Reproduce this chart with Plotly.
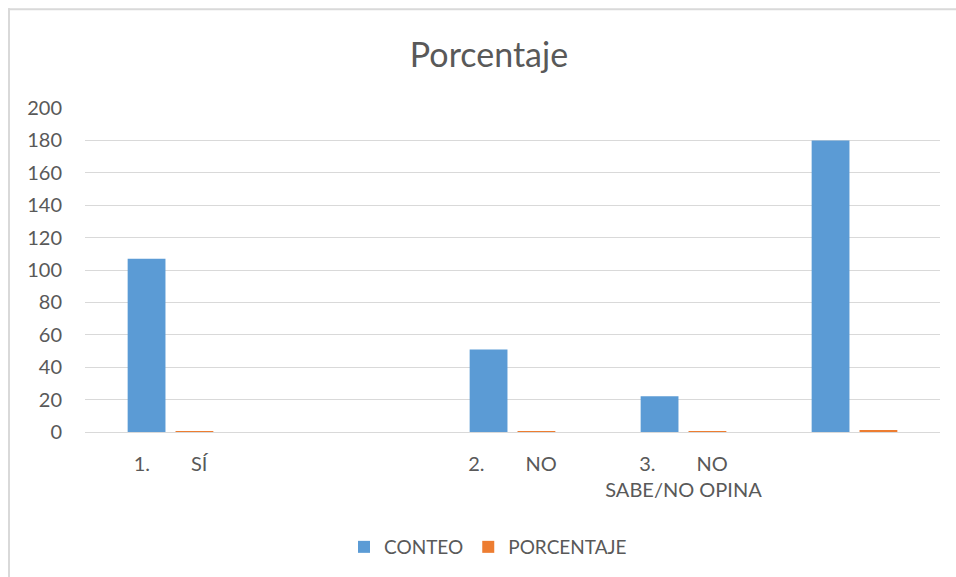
import plotly.graph_objects as go

NB = "\u00a0" * 8
categories = ["1." + NB + "SÍ", "", "2." + NB + "NO", "3." + NB + "NO<br>SABE/NO OPINA", ""]
conteo = [107, 0, 51, 22, 180]
porcentaje = [0.59, 0, 0.28, 0.12, 1.0]
y_ticks = [0, 20, 40, 60, 80, 100, 120, 140, 160, 180, 200]

TXT = "#595959"
GRID = "#D9D9D9"
FONT = "Lato, 'Open Sans', sans-serif"

xs = list(range(len(categories)))

fig = go.Figure()
fig.add_trace(go.Bar(x=xs, y=conteo, name="CONTEO", marker=dict(color="#5B9BD5", line=dict(width=0))))
fig.add_trace(go.Bar(x=xs, y=porcentaje, name="PORCENTAJE", marker=dict(color="#ED7D31", line=dict(width=0))))

L, R, T, B = 85, 16, 108, 144
W, H = 956, 577
pw, ph = W - L - R, H - T - B

def px_x(p):
    return (p - L) / pw

def px_y(p):
    return (H - B - p) / ph

fig.update_layout(
    width=W, height=H,
    margin=dict(l=L, r=R, t=T, b=B, pad=0),
    paper_bgcolor="white", plot_bgcolor="white",
    font=dict(family=FONT, color=TXT, size=20),
    title=dict(text="Porcentaje", x=px_x(489) , xanchor="center", y=1 - 55 / H, yanchor="middle",
               xref="paper", font=dict(size=34, color=TXT, family=FONT)),
    barmode="group", bargap=0.44, bargroupgap=0.21,
    showlegend=True,
    legend=dict(orientation="h", x=px_x(488), xanchor="center", y=px_y(547), yanchor="middle",
                font=dict(size=19, color=TXT), itemwidth=30, traceorder="normal"),
    xaxis=dict(tickmode="array", tickvals=xs, ticktext=categories, range=[-0.5, len(categories) - 0.5],
               showgrid=False, showline=True, linecolor=GRID, linewidth=1, ticks="", zeroline=False,
               tickfont=dict(size=20, color=TXT), ticklabelstandoff=14, tickangle=0),
    yaxis=dict(range=[0, 200], tickvals=y_ticks, showgrid=True, gridcolor=GRID, gridwidth=1,
               zeroline=False, showline=False, ticks="", tickfont=dict(size=20, color=TXT),
               ticklabelstandoff=22),
    shapes=[
        dict(type="line", xref="paper", yref="paper", x0=px_x(8), x1=px_x(W + 5), y0=px_y(9), y1=px_y(9),
             line=dict(color=GRID, width=2)),
        dict(type="line", xref="paper", yref="paper", x0=px_x(9), x1=px_x(9), y0=px_y(8), y1=px_y(H + 5),
             line=dict(color=GRID, width=2)),
    ],
)

fig.write_html("out.html", config={"displayModeBar": False},
               post_script="document.body.style.margin='0';document.body.style.overflow='hidden';")
